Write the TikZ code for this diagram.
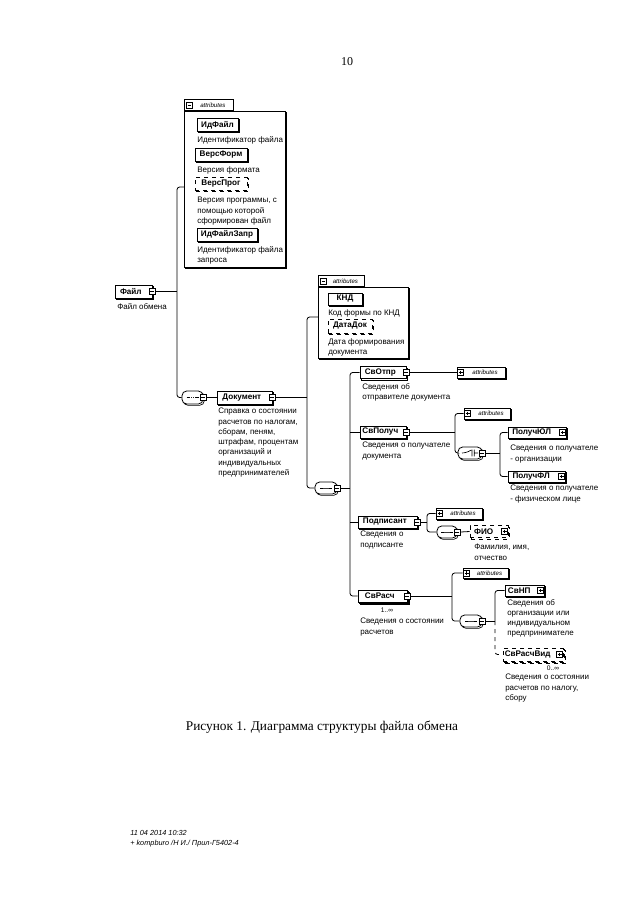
\documentclass[tikz,border=0pt]{standalone}
\usepackage{fontspec}
\setmainfont{Liberation Serif}
\newfontfamily\arialf{Liberation Sans}
\usetikzlibrary{shadows}
\tikzset{
  sz/.style 2 args={minimum width=#1*0.75pt, minimum height=#2*0.75pt},
  shd/.style={copy shadow={shadow xshift=1pt, shadow yshift=-1pt, fill=white, draw=black, line width=0.5pt}},
  elem/.style={draw, fill=white, line width=0.6pt, inner sep=0pt, shd,
    font=\arialf\bfseries\fontsize{6.1}{7}\selectfont},
  elemx/.style={elem, execute at end node={\hspace{4pt}}},
  elemp/.style={elem, execute at end node={\hspace{8pt}}},
  elemopt/.style={elem, dashed},
  elemoptp/.style={elemp, dashed},
  multi/.style={double copy shadow={shadow xshift=1pt, shadow yshift=-1pt, fill=white, draw=black, line width=0.5pt}},
  desc/.style={anchor=north west, inner sep=0pt, align=left,
    font=\arialf\fontsize{6}{7.7}\selectfont},
  pm/.style={draw, fill=white, inner sep=0pt, minimum size=4.5pt, line width=0.5pt, solid},
  minus/.style={pm, path picture={\draw[line width=0.5pt]
     ([xshift=0.8pt]path picture bounding box.west) -- ([xshift=-0.8pt]path picture bounding box.east);}},
  plus/.style={pm, path picture={\draw[line width=0.5pt]
     ([xshift=0.8pt]path picture bounding box.west) -- ([xshift=-0.8pt]path picture bounding box.east)
     ([yshift=-0.8pt]path picture bounding box.north) -- ([yshift=0.8pt]path picture bounding box.south);}},
  abox/.style={draw, fill=white, line width=0.6pt, inner sep=0pt, shd},
  atab/.style={draw, fill=white, line width=0.6pt, inner sep=0pt, anchor=south west,
    font=\arialf\itshape\fontsize{4.6}{5}\selectfont, execute at begin node={\hspace{6pt}}},
  acol/.style={draw, fill=white, line width=0.6pt, inner sep=0pt, shd,
    font=\arialf\itshape\fontsize{4.6}{5}\selectfont, execute at begin node={\hspace{6pt}}},
  seqc/.style={draw, fill=white, line width=0.6pt, rounded corners=3.5pt, inner sep=0pt, shd,
    path picture={\draw[line width=0.5pt]
      ([xshift=-4.5pt]path picture bounding box.center) -- ([xshift=4.5pt]path picture bounding box.center);
      \fill ([xshift=-1.5pt]path picture bounding box.center) circle (0.45pt)
            (path picture bounding box.center) circle (0.45pt)
            ([xshift=1.5pt]path picture bounding box.center) circle (0.45pt);}},
  choicec/.style={draw, fill=white, line width=0.6pt, rounded corners=3.5pt, inner sep=0pt, shd,
    path picture={\draw[line width=0.5pt]
      ([xshift=-6pt]path picture bounding box.center) -- ([xshift=-2.5pt]path picture bounding box.center)
      -- ([xshift=0.8pt,yshift=2.2pt]path picture bounding box.center)
      ([xshift=1.5pt,yshift=2.6pt]path picture bounding box.center) -- ([xshift=1.5pt,yshift=-2.6pt]path picture bounding box.center)
      ([xshift=3.2pt,yshift=2.6pt]path picture bounding box.center) -- ([xshift=3.2pt,yshift=-2.6pt]path picture bounding box.center)
      ([xshift=3.2pt]path picture bounding box.center) -- ([xshift=6pt]path picture bounding box.center);}},
  conn/.style={line width=0.6pt},
  rc/.style={conn, rounded corners=2pt},
  mult/.style={inner sep=0pt, font=\arialf\fontsize{5}{6}\selectfont}
}
\begin{document}
\begin{tikzpicture}[x=0.75pt,y=-0.75pt]
\fill[white] (0,0) rectangle (640,905);
\useasboundingbox (0,0) rectangle (640,905);

% page number
\node[font=\fontsize{9}{11}\selectfont] (pg) at (347,62) {10};

% ---------- attributes of Файл
\node[abox, anchor=north west, sz={101}{156}] (ab1) at (184,111) {};
\node[atab, sz={49}{11}] (at1) at (184,111) {attributes};
\node[minus] (at1m) at (189.5,105.5) {};
\node[elem, sz={41}{13}] (idf) at (217.5,125) {ИдФайл};
\node[desc] (didf) at (197,136) {Идентификатор файла};
\node[elem, sz={52}{13}] (vf) at (221,154.5) {ВерсФорм};
\node[desc] (dvf) at (197,166) {Версия формата};
\node[elemopt, sz={52}{13}] (vp) at (221,184) {ВерсПрог};
\node[desc] (dvp) at (197,197) {Версия программы, с\\помощью которой\\сформирован файл};
\node[elem, sz={60}{13}] (idz) at (227,234.5) {ИдФайлЗапр};
\node[desc] (didz) at (197,246) {Идентификатор файла\\запроса};

% ---------- Файл
\node[elemx, sz={37}{13}] (fajl) at (133.5,291.5) {Файл};
\node[minus] (fajlpm) at (fajl.east) {};
\node[desc] (dfajl) at (117,303) {Файл обмена};

\coordinate (b1t) at (177,187);
\coordinate (b1b) at (177,397.5);
\node[seqc, sz={21}{13}] (seq1) at (192.5,397.5) {};
\node[minus] (seq1pm) at (seq1.east) {};
\draw[conn] (fajlpm.east) -- (b1t |- fajl);
\draw[rc] (b1t -| ab1.west) -- (b1t) -- (b1b) -- (seq1.west);

% ---------- Документ
\node[elemx, sz={55}{13}] (dok) at (244.5,397.5) {Документ};
\node[minus] (dokpm) at (dok.east) {};
\draw[conn] (seq1pm.east) -- (dok.west);
\node[desc] (ddok) at (218,408) {Справка о состоянии\\расчетов по налогам,\\сборам, пеням,\\штрафам, процентам\\организаций и\\индивидуальных\\предпринимателей};

% attributes of Документ
\node[abox, anchor=north west, sz={90}{71}] (ab2) at (318,287) {};
\node[atab, sz={46}{11}] (at2) at (318,287) {attributes};
\node[minus] (at2m) at (323.5,281.5) {};
\node[elem, sz={34}{12}] (knd) at (345,299) {КНД};
\node[desc] (dknd) at (328,309) {Код формы по КНД};
\node[elemopt, sz={44}{14}] (dd) at (350,326) {ДатаДок};
\node[desc] (ddd) at (328,338) {Дата формирования\\документа};

\coordinate (b2t) at (307,317);
\coordinate (b2b) at (307,488);
\node[seqc, sz={22}{12}] (seq2) at (326,488) {};
\node[minus] (seq2pm) at (seq2.east) {};
\draw[conn] (dokpm.east) -- (b2t |- dok);
\draw[rc] (b2t -| ab2.west) -- (b2t) -- (b2b) -- (seq2.west);

% ---------- children of Документ
\node[elemx, sz={46}{12}] (svo) at (383,372.5) {СвОтпр};
\node[minus] (svopm) at (svo.east) {};
\node[desc] (dsvo) at (362,383) {Сведения об\\отправителе документа};
\node[acol, sz={48}{11}] (ac1) at (481,372.5) {attributes};
\node[plus] (ac1p) at ([xshift=3pt]ac1.west) {};
\draw[conn] (svopm.east) -- (ac1.west);

\node[elemx, sz={46}{12}] (svp) at (383,432) {СвПолуч};
\node[minus] (svppm) at (svp.east) {};
\node[desc] (dsvp) at (362,442) {Сведения о получателе\\документа};

\node[elemx, sz={59}{12}] (podp) at (387.5,522) {Подписант};
\node[minus] (podppm) at (podp.east) {};
\node[desc] (dpodp) at (360,531) {Сведения о\\подписанте};

\node[elemx, multi, sz={49}{12}] (svr) at (382.5,596) {СвРасч};
\node[minus] (svrpm) at (svr.east) {};
\node[mult] (svrm) at (387,610) {1..∞};
\node[desc] (dsvr) at (360,618) {Сведения о состоянии\\расчетов};

\coordinate (b3t) at (350,372.5);
\coordinate (b3b) at (350,596);
\draw[conn] (seq2pm.east) -- (b3t |- seq2);
\draw[rc] (svo.west) -- (b3t) -- (b3b) -- (svr.west);
\draw[conn] (b3t |- svp) -- (svp.west);
\draw[conn] (b3t |- podp) -- (podp.west);

% ---------- СвПолуч children
\node[acol, sz={46}{11}] (ac2) at (487,413.5) {attributes};
\node[plus] (ac2p) at ([xshift=3pt]ac2.west) {};
\node[choicec, sz={24}{12}] (ch1) at (470,453) {};
\node[minus] (ch1pm) at (ch1.east) {};
\coordinate (b4t) at (455,413.5);
\coordinate (b4b) at (455,453);
\draw[conn] (svppm.east) -- (b4t |- svp);
\draw[rc] (ac2.west) -- (b4t) -- (b4b) -- (ch1.west);

\node[elemp, sz={58}{11}] (pyul) at (537,432.5) {ПолучЮЛ};
\node[plus] (pyulpm) at ([xshift=-2.8pt]pyul.east) {};
\node[desc] (dpyul) at (510,445) {Сведения о получателе\\- организации};
\node[elemp, sz={57}{11}] (pfl) at (536.5,476.5) {ПолучФЛ};
\node[plus] (pflpm) at ([xshift=-2.8pt]pfl.east) {};
\node[desc] (dpfl) at (510,485) {Сведения о получателе\\- физическом лице};
\coordinate (b5t) at (500,432.5);
\coordinate (b5b) at (500,476.5);
\draw[conn] (ch1pm.east) -- (b5t |- ch1);
\draw[rc] (pyul.west) -- (b5t) -- (b5b) -- (pfl.west);

% ---------- Подписант children
\node[acol, sz={46}{11}] (ac3) at (459,513.5) {attributes};
\node[plus] (ac3p) at ([xshift=3pt]ac3.west) {};
\node[seqc, sz={20}{12}] (seq3) at (447,532) {};
\node[minus] (seq3pm) at (seq3.east) {};
\coordinate (b6t) at (427,513.5);
\coordinate (b6b) at (427,532);
\draw[conn] (podppm.east) -- (b6t |- podp);
\draw[rc] (ac3.west) -- (b6t) -- (b6b) -- (seq3.west);
\node[elemoptp, sz={38}{12}] (fio) at (489,531.5) {ФИО};
\node[plus] (fiopm) at ([xshift=-2.8pt]fio.east) {};
\node[desc] (dfio) at (474,544) {Фамилия, имя,\\отчество};
\draw[conn] (seq3pm.east) -- (fio.west);

% ---------- СвРасч children
\node[acol, sz={45}{10}] (ac4) at (485.5,573) {attributes};
\node[plus] (ac4p) at ([xshift=3pt]ac4.west) {};
\node[seqc, sz={22}{12}] (seq4) at (471,621) {};
\node[minus] (seq4pm) at (seq4.east) {};
\coordinate (b7t) at (452,573);
\coordinate (b7b) at (452,621);
\draw[conn] (svrpm.east) -- (b7t |- svr);
\draw[rc] (ac4.west) -- (b7t) -- (b7b) -- (seq4.west);

\node[elemp, sz={39}{11}] (svnp) at (524.5,590.5) {СвНП};
\node[plus] (svnppm) at ([xshift=-2.8pt]svnp.east) {};
\node[desc] (dsvnp) at (507,599) {Сведения об\\организации или\\индивидуальном\\предпринимателе};
\node[elemoptp, multi, sz={60}{13}] (svrv) at (533,654.5) {СвРасчВид};
\node[plus] (svrvpm) at ([xshift=-2.8pt]svrv.east) {};
\node[mult] (svrvm) at (553,668) {0..∞};
\node[desc] (dsvrv) at (505,674) {Сведения о состоянии\\расчетов по налогу,\\сбору};
\coordinate (b8t) at (495,590.5);
\coordinate (b8m) at (495,621);
\coordinate (b8b) at (495,654.5);
\draw[conn] (seq4pm.east) -- (b8m);
\draw[rc] (svnp.west) -- (b8t) -- (b8m);
\draw[rc, dashed] (b8m) -- (b8b) -- (svrv.west);

% ---------- caption and footer
\node[font=\fontsize{10}{12}\selectfont] (cap) at (322,727) {Рисунок 1. Диаграмма структуры файла обмена};
\node[anchor=base west, inner sep=0pt, font=\arialf\itshape\fontsize{5.5}{6.5}\selectfont] (f1) at (130,835) {11 04 2014 10:32};
\node[anchor=base west, inner sep=0pt, font=\arialf\itshape\fontsize{5.5}{6.5}\selectfont] (f2) at (130,845) {+ kompburo /Н И./ Прил-Г5402-4};
\end{tikzpicture}
\end{document}
